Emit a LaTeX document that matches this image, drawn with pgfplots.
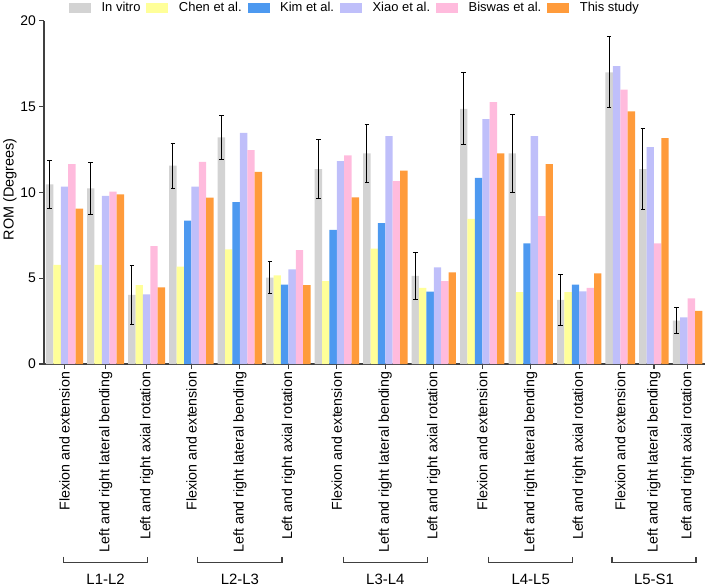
\documentclass[border=0pt]{standalone}
\usepackage{pgfplots}
\pgfplotsset{compat=1.18}
\usepackage{fontspec}
\setmainfont{Liberation Sans}
\definecolor{cgray}{HTML}{D3D3D3}
\definecolor{cyellow}{HTML}{FFFF99}
\definecolor{cblue}{HTML}{4D99F0}
\definecolor{cpurple}{HTML}{BFBFFA}
\definecolor{cpink}{HTML}{FFBBDD}
\definecolor{corange}{HTML}{FF9B3B}
\definecolor{axisgray}{HTML}{404040}
\pgfplotstableread{
x y e
0.5 10.47 1.4
6.05 10.23 1.5
11.6 4.02 1.72
17.15 11.55 1.3
23.7 13.2 1.3
30.25 5.03 0.95
36.8 11.36 1.72
43.35 12.27 1.7
49.9 5.13 1.39
56.45 14.87 2.1
63.0 12.27 2.25
69.55 3.73 1.5
76.1 16.99 2.07
80.65 11.36 2.37
85.2 2.52 0.75
}\invitro
\pgfplotstableread{
x y
1.5 5.77
7.05 5.77
12.6 4.60
18.15 5.67
24.7 6.68
31.25 5.17
37.8 4.83
44.35 6.72
50.9 4.43
57.45 8.45
64.0 4.19
70.55 4.19
}\chen
\pgfplotstableread{
x y
19.15 8.35
25.7 9.43
32.25 4.62
38.8 7.82
45.35 8.21
51.9 4.21
58.45 10.85
65.0 7.03
71.55 4.62
}\kim
\pgfplotstableread{
x y
2.5 10.33
8.05 9.80
13.6 4.06
20.15 10.33
26.7 13.47
33.25 5.51
39.8 11.82
46.35 13.28
52.9 5.63
59.45 14.27
66.0 13.28
72.55 4.23
77.1 17.36
81.65 12.64
86.2 2.72
}\xiao
\pgfplotstableread{
x y
3.5 11.65
9.05 10.04
14.6 6.87
21.15 11.78
27.7 12.46
34.25 6.64
40.8 12.15
47.35 10.66
53.9 4.83
60.45 15.26
67.0 8.62
73.55 4.44
78.1 15.98
82.65 7.03
87.2 3.83
}\biswas
\pgfplotstableread{
x y
4.5 9.05
10.05 9.88
15.6 4.47
22.15 9.69
28.7 11.2
35.25 4.6
41.8 9.71
48.35 11.26
54.9 5.34
61.45 12.27
68.0 11.65
74.55 5.28
79.1 14.72
83.65 13.16
88.2 3.09
}\thisstudy
\pgfplotsset{
  mybar/.style={ybar, bar shift=0pt, bar width=1, draw=none, fill=#1,
    legend image code/.code={\fill[fill=#1] (0bp,-4.7bp) rectangle (22bp,4.7bp);}},
}
\begin{document}
\begin{tikzpicture}
\begin{axis}[
  at={(44bp,224bp)}, anchor=south west,
  width=661bp, height=343.3bp, scale only axis,
  xmin=-0.27, xmax=89.05, ymin=0, ymax=20,
  axis x line*=bottom, axis y line*=left,
  axis line style={draw=axisgray, line width=1.2bp},
  tick style={draw=axisgray, line width=1.2bp},
  tick align=outside,
  major tick length=4.5bp,
  ytick={0,5,10,15,20},
  xtick={2.5,8.05,13.6,19.65,26.2,32.75,39.3,45.85,52.4,58.95,65.5,72.05,77.6,82.15,86.7},
  xticklabels={Flexion and extension,Left and right lateral bending,Left and right axial rotation,
    Flexion and extension,Left and right lateral bending,Left and right axial rotation,
    Flexion and extension,Left and right lateral bending,Left and right axial rotation,
    Flexion and extension,Left and right lateral bending,Left and right axial rotation,
    Flexion and extension,Left and right lateral bending,Left and right axial rotation},
  x tick label style={rotate=90, anchor=east, font=\fontsize{14.3}{16}\selectfont},
  y tick label style={font=\fontsize{14}{16}\selectfont},
  /pgf/number format/assume math mode=true,
  legend columns=6,
  legend style={at={(axis description cs:0.4705,1.037)}, anchor=center, draw=none, fill=none,
    font=\fontsize{13}{15}\selectfont,
    /tikz/every odd column/.append style={column sep=8.5bp},
    /tikz/every even column/.append style={column sep=4bp}},
  clip=false,
]
\addplot[mybar=cgray,
  error bars/.cd, y dir=both, y explicit,
  error bar style={black, line width=1bp},
  error mark options={rotate=90, mark size=2.3bp, line width=1bp, black}]
  table[x=x, y=y, y error=e] {\invitro};
\addlegendentry{In vitro}
\addplot[mybar=cyellow] table[x=x, y=y] {\chen};
\addlegendentry{Chen et al.}
\addplot[mybar=cblue] table[x=x, y=y] {\kim};
\addlegendentry{Kim et al.}
\addplot[mybar=cpurple] table[x=x, y=y] {\xiao};
\addlegendentry{Xiao et al.}
\addplot[mybar=cpink] table[x=x, y=y] {\biswas};
\addlegendentry{Biswas et al.}
\addplot[mybar=corange] table[x=x, y=y] {\thisstudy};
\addlegendentry{This study}
% y axis title
\node[rotate=90, anchor=center, inner sep=0pt, font=\fontsize{14.5}{16}\selectfont]
  at ([xshift=-34bp]rel axis cs:0,0.509) {ROM (Degrees)};
% group brackets
\draw[axisgray, line width=1.2bp]
  ([yshift=-192.7bp]axis cs:2.37,0) -- ([yshift=-198.7bp]axis cs:2.37,0)
  -- ([yshift=-198.7bp]axis cs:13.73,0) -- ([yshift=-192.7bp]axis cs:13.73,0);
\draw[axisgray, line width=1.2bp]
  ([yshift=-192.7bp]axis cs:20.52,0) -- ([yshift=-198.7bp]axis cs:20.52,0)
  -- ([yshift=-198.7bp]axis cs:31.88,0) -- ([yshift=-192.7bp]axis cs:31.88,0);
\draw[axisgray, line width=1.2bp]
  ([yshift=-192.7bp]axis cs:40.17,0) -- ([yshift=-198.7bp]axis cs:40.17,0)
  -- ([yshift=-198.7bp]axis cs:51.53,0) -- ([yshift=-192.7bp]axis cs:51.53,0);
\draw[axisgray, line width=1.2bp]
  ([yshift=-192.7bp]axis cs:59.82,0) -- ([yshift=-198.7bp]axis cs:59.82,0)
  -- ([yshift=-198.7bp]axis cs:71.18,0) -- ([yshift=-192.7bp]axis cs:71.18,0);
\draw[axisgray, line width=1.2bp]
  ([yshift=-192.7bp]axis cs:76.47,0) -- ([yshift=-198.7bp]axis cs:76.47,0)
  -- ([yshift=-198.7bp]axis cs:87.83,0) -- ([yshift=-192.7bp]axis cs:87.83,0);
\node[font=\fontsize{15}{17}\selectfont, inner sep=0pt] at ([yshift=-215bp]axis cs:8.05,0) {L1-L2};
\node[font=\fontsize{15}{17}\selectfont, inner sep=0pt] at ([yshift=-215bp]axis cs:26.2,0) {L2-L3};
\node[font=\fontsize{15}{17}\selectfont, inner sep=0pt] at ([yshift=-215bp]axis cs:45.85,0) {L3-L4};
\node[font=\fontsize{15}{17}\selectfont, inner sep=0pt] at ([yshift=-215bp]axis cs:65.5,0) {L4-L5};
\node[font=\fontsize{15}{17}\selectfont, inner sep=0pt] at ([yshift=-215bp]axis cs:82.15,0) {L5-S1};
\end{axis}
\pgfresetboundingbox
\useasboundingbox (0,0) rectangle (709bp,588bp);
\end{tikzpicture}
\end{document}
